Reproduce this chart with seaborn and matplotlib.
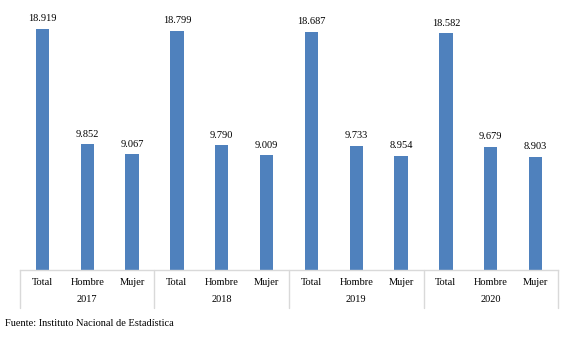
import matplotlib
matplotlib.use("Agg")
import matplotlib.pyplot as plt
import matplotlib.transforms as mtransforms
import seaborn as sns
import pandas as pd

years = ["2017", "2018", "2019", "2020"]
categories = ["Total", "Hombre", "Mujer"]
values_2017 = [18.919, 9.852, 9.067]
values_2018 = [18.799, 9.790, 9.009]
values_2019 = [18.687, 9.733, 8.954]
values_2020 = [18.582, 9.679, 8.903]
source_text = "Fuente: Instituto Nacional de Estadística"

all_vals = [values_2017, values_2018, values_2019, values_2020]
rows = []
for y, vals in zip(years, all_vals):
    for c, v in zip(categories, vals):
        rows.append({"key": f"{y}-{c}", "year": y, "cat": c, "value": v})
df = pd.DataFrame(rows)

sns.set_theme(style="white")
plt.rcParams["font.family"] = ["Liberation Serif", "DejaVu Serif"]

W, H = 571, 339
fig = plt.figure(figsize=(W / 100, H / 100), dpi=100)
left, right, bottom, top = 20, 558, 270, 5
ax = fig.add_axes([left / W, 1 - bottom / H, (right - left) / W, (bottom - top) / H])

sns.barplot(data=df, x="key", y="value", color="#4F81BD", saturation=1,
            width=0.3, linewidth=0, edgecolor="none", ax=ax)
ax.set_xlim(-0.5, len(df) - 0.5)
ax.set_ylim(0, 265 / 12.74)

for sp in ["top", "right", "left"]:
    ax.spines[sp].set_visible(False)
ax.spines["bottom"].set_color("#D9D9D9")
ax.spines["bottom"].set_linewidth(1)
ax.set_yticks([])
ax.set_ylabel("")
ax.set_xlabel("")
ax.set_xticks(range(len(df)))
ax.set_xticklabels(df["cat"], fontsize=7.5, color="black")
ax.tick_params(axis="x", length=0, pad=6)

for i, v in enumerate(df["value"]):
    ax.annotate(f"{v:.3f}", (i, v), xytext=(0, 4), textcoords="offset points",
                ha="center", va="bottom", fontsize=7.5, color="black")

trans = mtransforms.blended_transform_factory(ax.transData, ax.transAxes)
axh = (bottom - top)
n = len(categories)
for g in range(len(years) + 1):
    xs = g * n - 0.5
    ax.plot([xs, xs], [0, -38 / axh], transform=trans, color="#D9D9D9",
            lw=1, clip_on=False)
for g, y in enumerate(years):
    ax.text(g * n + (n - 1) / 2, -30 / axh, y, transform=trans, ha="center",
            va="center", fontsize=7.5, color="black")

fig.text(5 / W, 1 - 323 / H, source_text, ha="left", va="center", fontsize=7.5,
         color="black")

fig.savefig("out.png", dpi=100)
